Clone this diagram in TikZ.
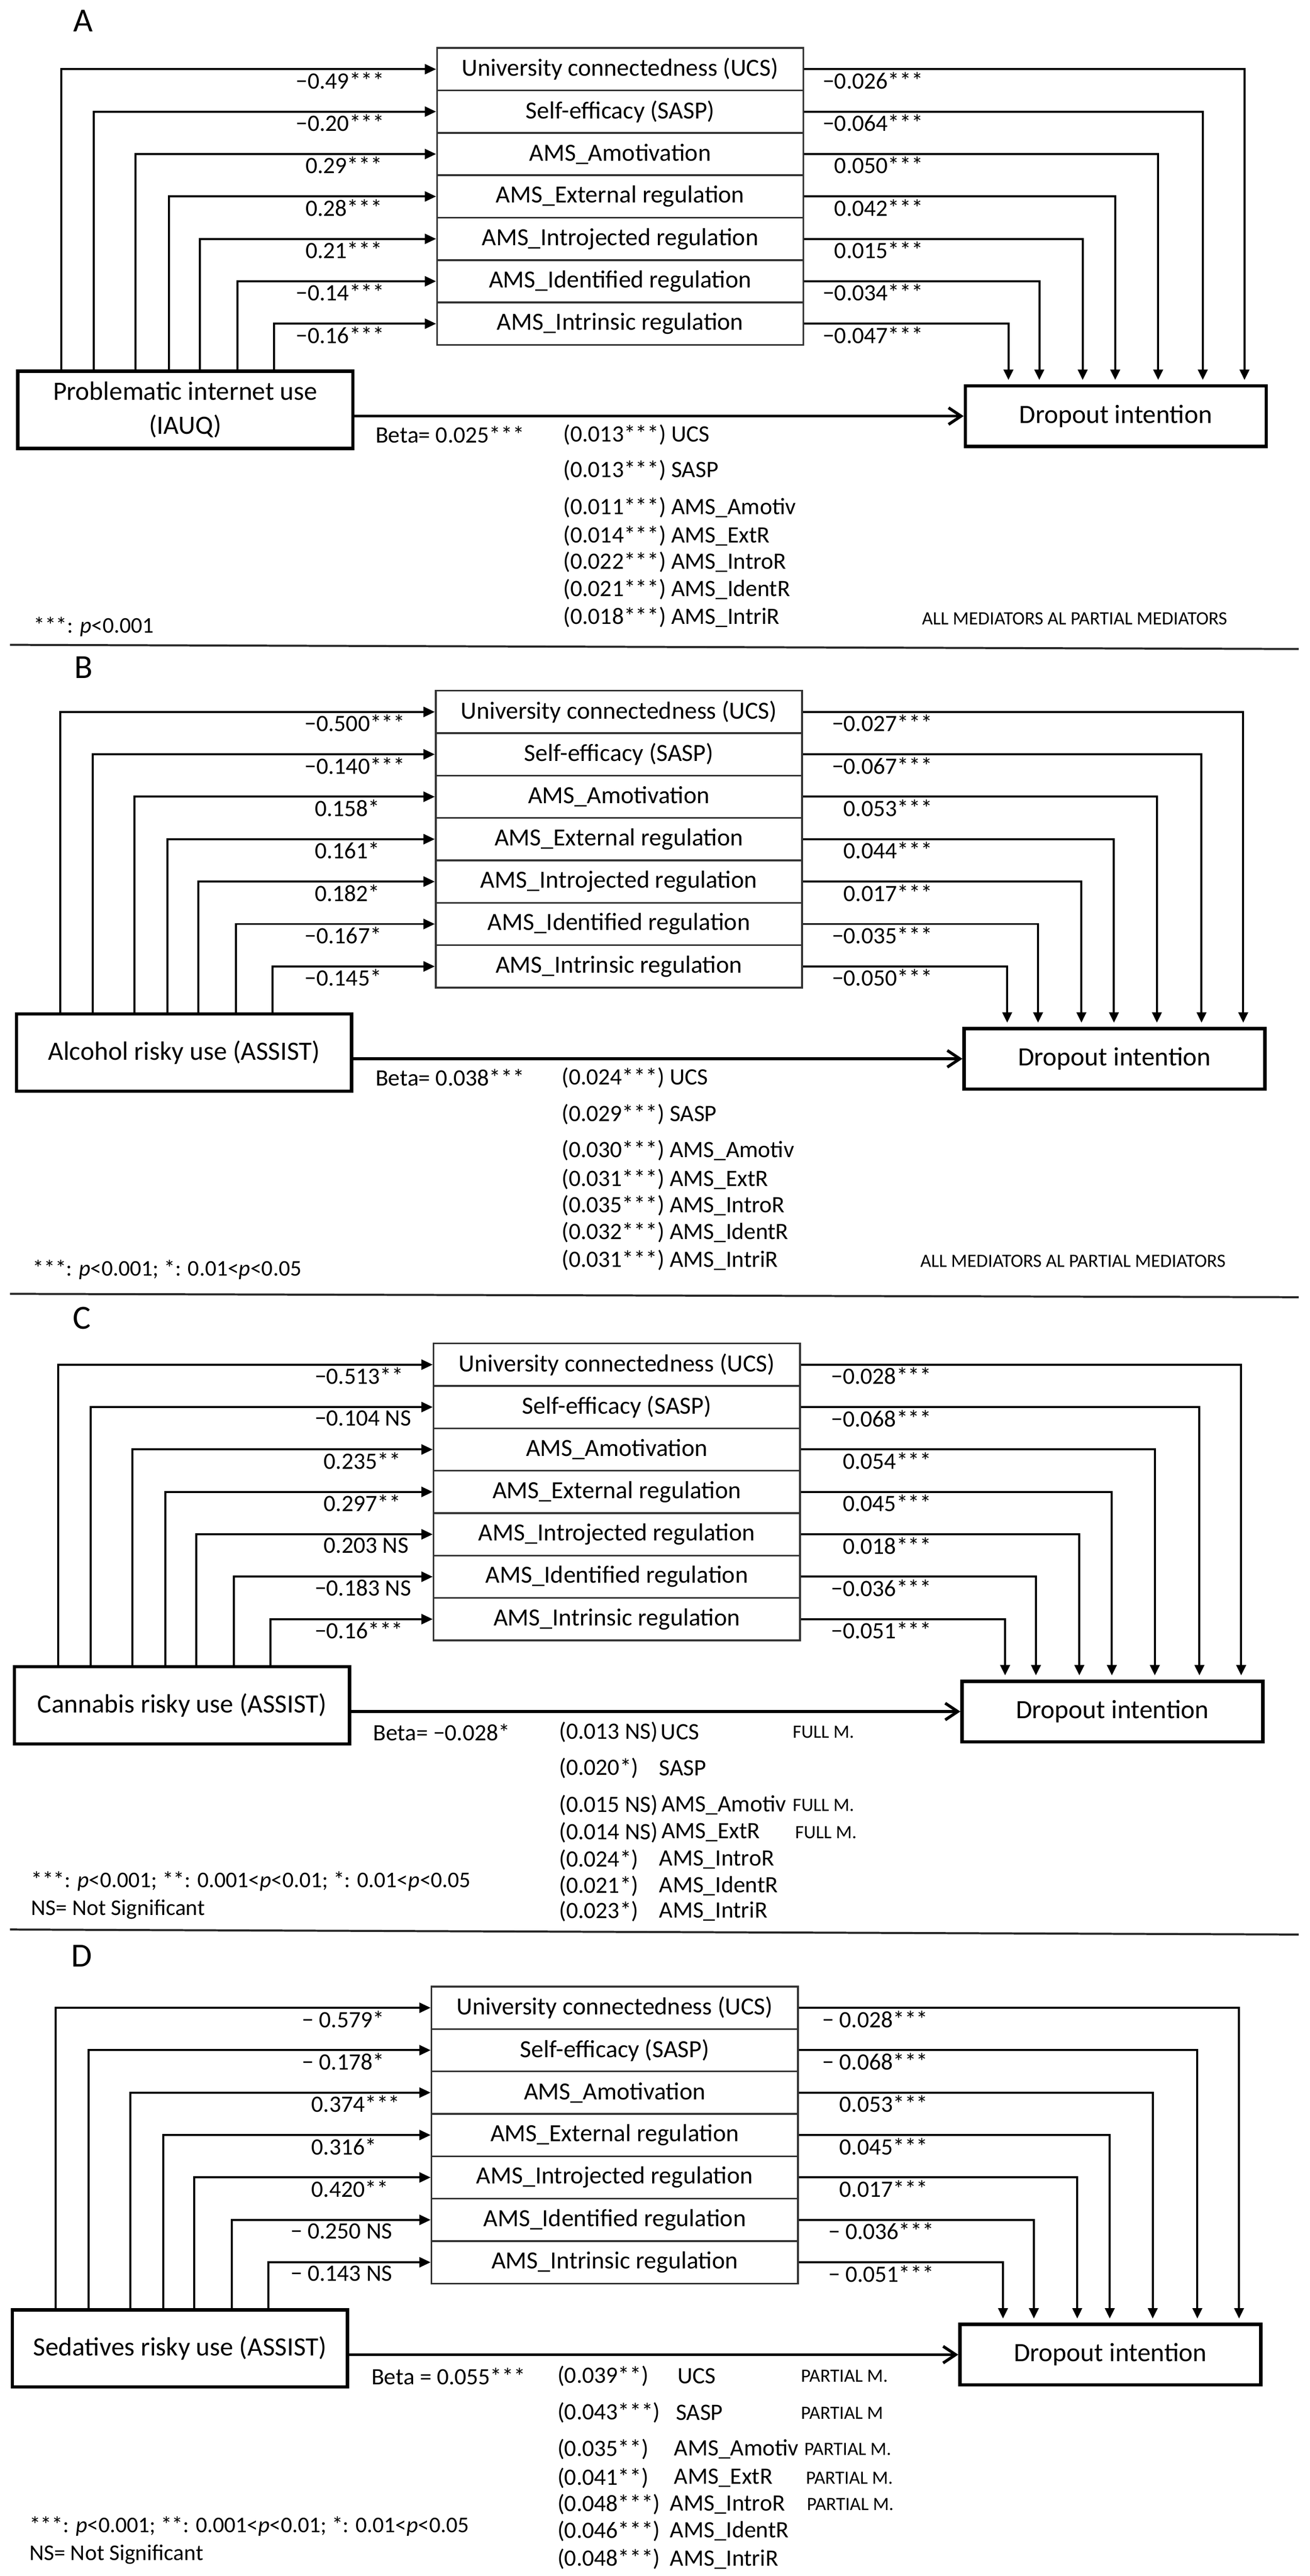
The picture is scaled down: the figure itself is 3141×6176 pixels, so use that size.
\documentclass[tikz,border=0pt]{standalone}
\usepackage{fontspec}
\setmainfont{Carlito}
\usetikzlibrary{arrows.meta}
\tikzset{
  medbox/.style={draw=black!80, line width=1.2pt, minimum width=8.78cm, minimum height=1.017cm, inner sep=0pt, font=\fontsize{16.8}{20}\selectfont},
  srcbox/.style={draw, line width=2.3pt, inner sep=0pt, align=center, font=\fontsize{18}{23}\selectfont},
  conn/.style={line width=1.4pt, -{Triangle[length=0.27cm,width=0.24cm]}},
  downconn/.style={line width=1.4pt, -{Triangle[length=0.25cm,width=0.23cm]}, shorten >=0.1cm},
  direct/.style={line width=2pt, -{Straight Barb[length=0.3cm,width=0.4cm,line width=2pt]}},
  lab/.style={inner sep=0pt, font=\fontsize{16}{19}\selectfont},
  smallcap/.style={inner sep=0pt, anchor=west, font=\fontsize{12.8}{15}\selectfont},
  foot/.style={inner sep=0pt, anchor=west, font=\fontsize{15.3}{18}\selectfont},
  letter/.style={inner sep=0pt, font=\fontsize{23}{27}\selectfont},
  sepline/.style={line width=1.4pt, draw=black!85},
}
\newcommand{\PanelFrame}[3]{%
  \begin{scope}[xshift=#3]
  \foreach \i/\txt in {0/University connectedness (UCS),1/Self-efficacy (SASP),2/AMS\_Amotivation,3/AMS\_External regulation,4/AMS\_Introjected regulation,5/AMS\_Identified regulation,6/AMS\_Intrinsic regulation}{
    \node[medbox] (#1m\i) at (1487,{50.85+101.7*\i}) {\txt};
  }
  \node[srcbox, minimum width=8.03cm, minimum height=1.85cm] (#1s) at (444.5,867.5) {#2};
  \node[srcbox, minimum width=7.21cm, minimum height=1.45cm] (#1d) at (2675.5,882.5) {Dropout intention};
  \foreach \i/\xx in {0/147,1/225,2/325,3/405,4/479,5/569,6/657}{
    \coordinate (#1L\i) at (\xx,0);
    \draw[conn] (#1s.north -| #1L\i) |- (#1m\i.west);
  }
  \foreach \i/\xx in {0/2984,1/2884,2/2777,3/2674,4/2596,5/2492,6/2418}{
    \coordinate (#1R\i) at (\xx,0);
    \draw[downconn] (#1m\i.east) -| (#1d.north -| #1R\i);
  }
  \draw[direct] (#1s.east |- #1d.west) -- (#1d.west);
  \end{scope}
}
\newcommand{\LL}[4]{\node[lab,anchor=west] (#1ll#2) at (#3,{78+101.7*#2}) {#4};}
\newcommand{\RL}[4]{\node[lab,anchor=east] (#1rl#2) at (#3,{78+101.7*#2}) {#4};}
\newcommand{\LI}[4]{\node[lab,anchor=west] (#1) at (#2,#3) {#4};}
\begin{document}
\begin{tikzpicture}[x=0.01cm,y=-0.01cm]
\path[fill=white, use as bounding box] (0,0) rectangle (3141,6176);
\draw[sepline] (24,1546) -- (3114,1556);
\draw[sepline] (24,3102) -- (3114,3110);
\draw[sepline] (24,4626) -- (3114,4638);

% ================= Panel A
\begin{scope}[yshift=-1.15cm]
  \node[letter] (aletter) at (200,-65) {A};
  \PanelFrame{a}{Problematic internet use\\(IAUQ)}{0cm}
  \LL{a}{0}{709}{−0.49***}
  \LL{a}{1}{709}{−0.20***}
  \LL{a}{2}{732}{0.29***}
  \LL{a}{3}{732}{0.28***}
  \LL{a}{4}{732}{0.21***}
  \LL{a}{5}{709}{−0.14***}
  \LL{a}{6}{709}{−0.16***}
  \RL{a}{0}{2214}{−0.026***}
  \RL{a}{1}{2214}{−0.064***}
  \RL{a}{2}{2214}{0.050***}
  \RL{a}{3}{2214}{0.042***}
  \RL{a}{4}{2214}{0.015***}
  \RL{a}{5}{2214}{−0.034***}
  \RL{a}{6}{2214}{−0.047***}
  \LI{abeta}{900}{927}{Beta= 0.025***}
  \LI{av0}{1350}{927}{(0.013***) UCS}
  \LI{av1}{1350}{1013}{(0.013***) SASP}
  \LI{av2}{1350}{1101}{(0.011***) AMS\_Amotiv}
  \LI{av3}{1350}{1169}{(0.014***) AMS\_ExtR}
  \LI{av4}{1350}{1233}{(0.022***) AMS\_IntroR}
  \LI{av5}{1350}{1298}{(0.021***) AMS\_IdentR}
  \LI{av6}{1350}{1365}{(0.018***) AMS\_IntriR}
  \node[foot] (afoot) at (80,1387) {***: \textit{p}<0.001};
  \node[smallcap] (aall) at (2210,1368) {ALL MEDIATORS AL PARTIAL MEDIATORS};
\end{scope}

% ================= Panel B
\begin{scope}[yshift=-16.55cm]
  \node[letter] (bletter) at (200,-56) {B};
  \PanelFrame{b}{Alcohol risky use (ASSIST)}{-0.03cm}
  \LL{b}{0}{730}{−0.500***}
  \LL{b}{1}{730}{−0.140***}
  \LL{b}{2}{754}{0.158*}
  \LL{b}{3}{754}{0.161*}
  \LL{b}{4}{754}{0.182*}
  \LL{b}{5}{730}{−0.167*}
  \LL{b}{6}{730}{−0.145*}
  \RL{b}{0}{2236}{−0.027***}
  \RL{b}{1}{2236}{−0.067***}
  \RL{b}{2}{2236}{0.053***}
  \RL{b}{3}{2236}{0.044***}
  \RL{b}{4}{2236}{0.017***}
  \RL{b}{5}{2236}{−0.035***}
  \RL{b}{6}{2236}{−0.050***}
  \LI{bbeta}{900}{928}{Beta= 0.038***}
  \LI{bv0}{1346}{928}{(0.024***) UCS}
  \LI{bv1}{1346}{1016}{(0.029***) SASP}
  \LI{bv2}{1346}{1102}{(0.030***) AMS\_Amotiv}
  \LI{bv3}{1346}{1171}{(0.031***) AMS\_ExtR}
  \LI{bv4}{1346}{1234}{(0.035***) AMS\_IntroR}
  \LI{bv5}{1346}{1299}{(0.032***) AMS\_IdentR}
  \LI{bv6}{1346}{1365}{(0.031***) AMS\_IntriR}
  \node[foot] (bfoot) at (78,1388) {***: \textit{p}<0.001; *: 0.01<\textit{p}<0.05};
  \node[smallcap] (ball) at (2206,1368) {ALL MEDIATORS AL PARTIAL MEDIATORS};
\end{scope}

% ================= Panel C
\begin{scope}[yshift=-32.19cm]
  \node[letter] (cletter) at (196,-61) {C};
  \PanelFrame{c}{Cannabis risky use (ASSIST)}{-0.08cm}
  \LL{c}{0}{754}{−0.513**}
  \LL{c}{1}{754}{−0.104 NS}
  \LL{c}{2}{776}{0.235**}
  \LL{c}{3}{776}{0.297**}
  \LL{c}{4}{776}{0.203 NS}
  \LL{c}{5}{754}{−0.183 NS}
  \LL{c}{6}{754}{−0.16***}
  \RL{c}{0}{2234}{−0.028***}
  \RL{c}{1}{2234}{−0.068***}
  \RL{c}{2}{2234}{0.054***}
  \RL{c}{3}{2234}{0.045***}
  \RL{c}{4}{2234}{0.018***}
  \RL{c}{5}{2234}{−0.036***}
  \RL{c}{6}{2234}{−0.051***}
  \LI{cbeta}{894}{932}{Beta= −0.028*}
  \LI{cv0}{1340}{932}{(0.013 NS)}
  \LI{cv1}{1340}{1018}{(0.020*)}
  \LI{cv2}{1340}{1107}{(0.015 NS)}
  \LI{cv3}{1340}{1173}{(0.014 NS)}
  \LI{cv4}{1340}{1238}{(0.024*)}
  \LI{cv5}{1340}{1301}{(0.021*)}
  \LI{cv6}{1340}{1362}{(0.023*)}
  \LI{cn0}{1584}{932}{UCS}
  \LI{cn1}{1580}{1018}{SASP}
  \LI{cn2}{1586}{1107}{AMS\_Amotiv}
  \LI{cn3}{1586}{1173}{AMS\_ExtR}
  \LI{cn4}{1580}{1238}{AMS\_IntroR}
  \LI{cn5}{1580}{1301}{AMS\_IdentR}
  \LI{cn6}{1580}{1362}{AMS\_IntriR}
  \node[smallcap] (cf0) at (1900,932) {FULL M.};
  \node[smallcap] (cf2) at (1900,1107) {FULL M.};
  \node[smallcap] (cf3) at (1906,1173) {FULL M.};
  \node[foot] (cfoot1) at (74,1289) {***: \textit{p}<0.001; **: 0.001<\textit{p}<0.01; *: 0.01<\textit{p}<0.05};
  \node[foot] (cfoot2) at (74,1357) {NS= Not Significant};
\end{scope}

% ================= Panel D
\begin{scope}[yshift=-47.60cm]
  \node[letter] (dletter) at (196,-73) {D};
  \PanelFrame{d}{Sedatives risky use (ASSIST)}{-0.13cm}
  \LL{d}{0}{724}{− 0.579*}
  \LL{d}{1}{724}{− 0.178*}
  \LL{d}{2}{746}{0.374***}
  \LL{d}{3}{746}{0.316*}
  \LL{d}{4}{746}{0.420**}
  \LL{d}{5}{696}{− 0.250 NS}
  \LL{d}{6}{696}{− 0.143 NS}
  \RL{d}{0}{2226}{− 0.028***}
  \RL{d}{1}{2226}{− 0.068***}
  \RL{d}{2}{2226}{0.053***}
  \RL{d}{3}{2226}{0.045***}
  \RL{d}{4}{2226}{0.017***}
  \RL{d}{5}{2240}{− 0.036***}
  \RL{d}{6}{2240}{− 0.051***}
  \LI{dbeta}{890}{934}{Beta = 0.055***}
  \LI{dv0}{1336}{934}{(0.039**)}
  \LI{dv1}{1336}{1022}{(0.043***)}
  \LI{dv2}{1336}{1109}{(0.035**)}
  \LI{dv3}{1336}{1178}{(0.041**)}
  \LI{dv4}{1336}{1242}{(0.048***)}
  \LI{dv5}{1336}{1306}{(0.046***)}
  \LI{dv6}{1336}{1373}{(0.048***)}
  \LI{dn0}{1624}{934}{UCS}
  \LI{dn1}{1620}{1022}{SASP}
  \LI{dn2}{1616}{1109}{AMS\_Amotiv}
  \LI{dn3}{1616}{1178}{AMS\_ExtR}
  \LI{dn4}{1606}{1242}{AMS\_IntroR}
  \LI{dn5}{1606}{1306}{AMS\_IdentR}
  \LI{dn6}{1606}{1373}{AMS\_IntriR}
  \node[smallcap] (dp0) at (1920,934) {PARTIAL M.};
  \node[smallcap] (dp1) at (1920,1022) {PARTIAL M};
  \node[smallcap] (dp2) at (1928,1109) {PARTIAL M.};
  \node[smallcap] (dp3) at (1932,1178) {PARTIAL M.};
  \node[smallcap] (dp4) at (1934,1242) {PARTIAL M.};
  \node[foot] (dfoot1) at (70,1294) {***: \textit{p}<0.001; **: 0.001<\textit{p}<0.01; *: 0.01<\textit{p}<0.05};
  \node[foot] (dfoot2) at (70,1361) {NS= Not Significant};
\end{scope}
\end{tikzpicture}
\end{document}
